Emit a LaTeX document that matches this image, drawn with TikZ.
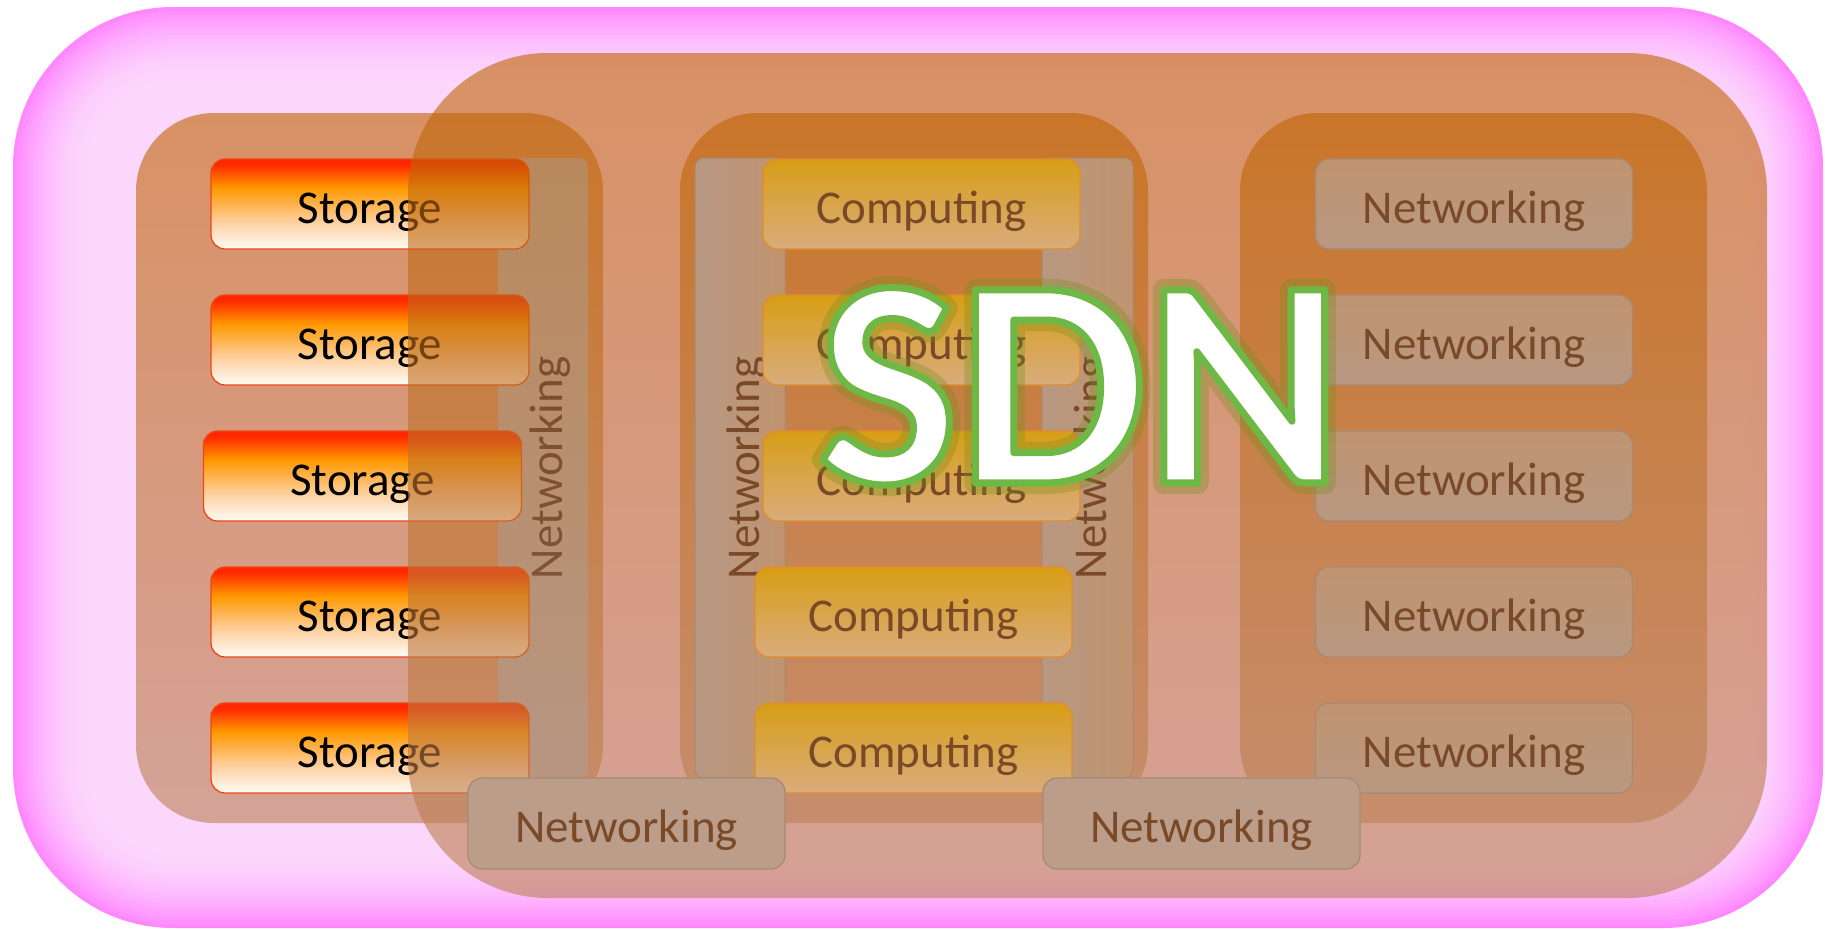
\documentclass[tikz,border=0pt]{standalone}
\usepackage{fontspec}
\setmainfont{Carlito}
\definecolor{pinkM}{RGB}{255,136,255}
\definecolor{pinkL}{RGB}{252,215,252}
\definecolor{ctop}{RGB}{192,99,0}
\definecolor{cbot}{RGB}{188,128,85}
\definecolor{stRed}{RGB}{255,40,0}
\definecolor{stOrange}{RGB}{255,152,0}
\definecolor{stPeach}{RGB}{253,208,160}
\definecolor{stWhite}{RGB}{255,252,246}
\definecolor{stBorder}{RGB}{238,70,20}
\definecolor{cpTop}{RGB}{216,158,22}
\definecolor{cpBot}{RGB}{216,172,125}
\definecolor{cpBorder}{RGB}{226,140,40}
\definecolor{nwTop}{RGB}{192,148,112}
\definecolor{nwBot}{RGB}{184,152,130}
\definecolor{nwBorder}{RGB}{168,138,115}
\definecolor{nbFill}{RGB}{188,157,138}
\definecolor{brownTxt}{RGB}{122,74,40}
\definecolor{hidBar}{RGB}{177,190,217}
\definecolor{hidTxt}{RGB}{30,32,62}
\pgfdeclareverticalshading{storageshade}{100bp}{color(0bp)=(stWhite); color(25bp)=(stWhite); color(40bp)=(stPeach); color(59bp)=(stOrange); color(72bp)=(stRed); color(100bp)=(stRed)}
% outlined text: fill white, stroke green
\newcommand\sdnstroke[3]{\special{pdf:literal direct 2 Tr #1 w 1 j #2 RG}#3\special{pdf:literal direct 0 Tr}}
% soft glow layer: stroke only, with a given stroke opacity
\newcommand\glowlayer[3]{\rlap{\pgfsetstrokeopacity{#2}\special{pdf:literal direct 1 Tr #1 w 1 j 0.45 0.56 0.10 RG}#3\special{pdf:literal direct 0 Tr}\pgfsetstrokeopacity{1}}}
\begin{document}
\begin{tikzpicture}[x=1pt,y=-1pt,
  every node/.style={inner sep=0pt,outer sep=0pt},
  lbl/.style={font=\fontsize{47}{56}\selectfont, text height=38pt, text depth=0pt},
  grpbox/.style={rounded corners=78pt, top color=ctop, bottom color=cbot, fill opacity=0.6, minimum width=467pt, minimum height=710pt},
  stbox/.style={lbl, draw=stBorder, line width=1.3pt, rounded corners=14pt, shade, shading=storageshade, minimum width=318pt, minimum height=90pt, text=black},
  cpbox/.style={lbl, draw=cpBorder, line width=1.3pt, rounded corners=14pt, top color=cpTop, bottom color=cpBot, minimum width=317pt, minimum height=90pt, text=brownTxt},
  nwbox/.style={lbl, draw=nwBorder, line width=1.3pt, rounded corners=14pt, top color=nwTop, bottom color=nwBot, minimum width=317pt, minimum height=90pt, text=brownTxt},
  nbbox/.style={lbl, draw=nwBorder, line width=1.3pt, rounded corners=14pt, fill=nbFill, minimum width=317pt, minimum height=91pt, text=brownTxt},
  vbar/.style={lbl, rotate=90, rounded corners=9pt, minimum width=620pt, minimum height=90pt, draw=nwBorder, line width=1pt, left color=nwBot, right color=nwTop, text=brownTxt},
  hidbar/.style={lbl, rotate=90, rounded corners=9pt, minimum width=620pt, minimum height=90pt, fill=hidBar, text=hidTxt},
  sdnfont/.style={font=\fontsize{298}{300}\selectfont\bfseries, anchor=base}
]
\useasboundingbox (0,0) rectangle (1825,929);

% pink background with inner glow
\foreach \i in {0,...,20}{
  \pgfmathsetmacro\ins{\i*4}
  \pgfmathtruncatemacro\pc{round(100*(1-(1-\i/20)^2))}
  \pgfmathsetmacro\rad{160-\ins}
  \fill[pinkL!\pc!pinkM, rounded corners=\rad pt] (13+\ins,7+\ins) rectangle (1823-\ins,928-\ins);
}

% storage group (below the SDN layer)
\node[grpbox] (gstore) at (369.5,468) {};
\node[hidbar] (nbarL) at (543,468) {Networking};
\node[stbox] (st1) at (370,204) {Storage};
\node[stbox] (st2) at (370,340) {Storage};
\node[stbox] (st3) at (362.5,476) {Storage};
\node[stbox] (st4) at (370,612) {Storage};
\node[stbox] (st5) at (370,748) {Storage};

% SDN layer
\node[grpbox, minimum width=1359pt, minimum height=845pt, rounded corners=140pt] (sdnbox) at (1087.5,475.5) {};

% computing group
\node[grpbox, minimum width=468pt] (gcomp) at (914,468) {};
\node[vbar] (nbarM1) at (740,468) {Networking};
\node[vbar, minimum height=91pt] (nbarM2) at (1087.5,468) {Networking};
\node[cpbox] (cp1) at (921.5,204) {Computing};
\node[cpbox] (cp2) at (921.5,340) {Computing};
\node[cpbox] (cp3) at (921.5,476) {Computing};
\node[cpbox] (cp4) at (913.5,612) {Computing};
\node[cpbox] (cp5) at (913.5,748) {Computing};

% networking group
\node[grpbox] (gnet) at (1473.5,468) {};
\node[nwbox] (nw1) at (1474,204) {Networking};
\node[nwbox] (nw2) at (1474,340) {Networking};
\node[nwbox] (nw3) at (1474,476) {Networking};
\node[nwbox] (nw4) at (1474,612) {Networking};
\node[nwbox] (nw5) at (1474,748) {Networking};

% bottom networking boxes
\node[nbbox] (nbL) at (626.5,823.5) {Networking};
\node[nbbox] (nbR) at (1201.5,823.5) {Networking};

% SDN title with green glow and green outline
\node[sdnfont, text=white] (sdn) at (1080,483)
  {\glowlayer{22}{0.32}{SDN}\sdnstroke{7}{0.43 0.72 0.27}{SDN}};
\end{tikzpicture}
\end{document}
